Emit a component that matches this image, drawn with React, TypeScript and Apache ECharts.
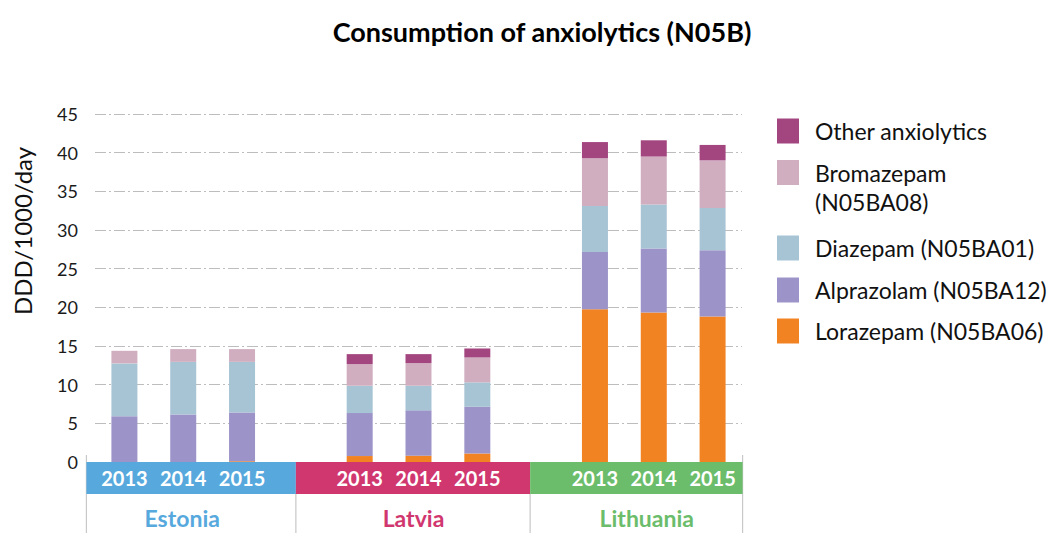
import React, { useEffect, useRef } from "react";
import * as echarts from "echarts";

const countries = ["Estonia", "Latvia", "Lithuania"];
const years = ["2013", "2014", "2015"];
const countryColors = ["#57A9DD", "#D1376F", "#6BBD6B"];

// values per country x year: Estonia 2013..2015, Latvia 2013..2015, Lithuania 2013..2015
const lorazepam = [0, 0, 0.1, 0.77, 0.82, 1.1, 19.76, 19.33, 18.82];
const alprazolam = [5.9, 6.14, 6.3, 5.56, 5.86, 6.04, 7.4, 8.27, 8.56];
const diazepam = [6.85, 6.81, 6.55, 3.53, 3.18, 3.16, 5.94, 5.7, 5.47];
const bromazepam = [1.63, 1.65, 1.65, 2.8, 2.93, 3.22, 6.2, 6.2, 6.15];
const otherAnxiolytics = [0, 0, 0, 1.29, 1.16, 1.16, 2.07, 2.1, 2.0];

const seriesNames = [
  "Lorazepam (N05BA06)",
  "Alprazolam (N05BA12)",
  "Diazepam (N05BA01)",
  "Bromazepam\n(N05BA08)",
  "Other anxiolytics",
];
const seriesValues = [lorazepam, alprazolam, diazepam, bromazepam, otherAnxiolytics];
const seriesColors = ["#F28322", "#9C94C9", "#A7C4D4", "#D0AEBF", "#A3457F"];

const yTicks = { min: 0, max: 45, interval: 5 };
const title = "Consumption of anxiolytics (N05B)";
const yName = "DDD/1000/day";

const FONT = "Lato, 'Open Sans', sans-serif";

// Build category slots with an empty gap slot between countries
const categories: string[] = [];
const slotIndex: number[] = [];
countries.forEach((c, ci) => {
  years.forEach((y) => {
    slotIndex.push(categories.length);
    categories.push(y);
  });
  if (ci < countries.length - 1) categories.push("");
});

function toSlots(vals: number[]) {
  const out: (number | null)[] = categories.map(() => null);
  vals.forEach((v, i) => {
    out[slotIndex[i]] = v;
  });
  return out;
}

export default function App() {
  const ref = useRef<HTMLDivElement>(null);
  useEffect(() => {
    document.body.style.margin = "0";
    if (!ref.current) return;
    const chart = echarts.init(ref.current, undefined, { renderer: "svg" });
    chart.setOption({
      animation: false,
      textStyle: { fontFamily: FONT },
      grid: { left: 95, right: 307, top: 114, bottom: 71, containLabel: false },
      xAxis: {
        type: "category",
        data: categories,
        z: 10,
        axisLine: { show: false },
        axisTick: { show: false },
        axisLabel: {
          color: "#ffffff",
          fontWeight: "bold",
          fontSize: 20,
          fontFamily: FONT,
          margin: 6,
          interval: 0,
        },
      },
      yAxis: {
        type: "value",
        min: yTicks.min,
        max: yTicks.max,
        interval: yTicks.interval,
        axisLine: { show: false },
        axisTick: { show: false },
        axisLabel: { color: "#1a1a1a", fontSize: 18, margin: 17, fontFamily: FONT },
        splitLine: {
          lineStyle: { color: "#BDBDBD", width: 1.2, type: [11, 3, 2, 3] },
        },
      },
      series: seriesValues.map((vals, i) => ({
        type: "bar",
        name: seriesNames[i],
        stack: "total",
        barWidth: 26,
        data: toSlots(vals),
        itemStyle: { color: seriesColors[i] },
      })),
    });

    const px = (i: number) => chart.convertToPixel({ xAxisIndex: 0 }, i) as number;
    const bandTop = 462;
    const bandH = 32;
    const edges = [px(0) - 38, px(3) - 5, px(7) - 6, px(10) + 30];
    const labelX = [px(1) - 1, px(5) - 5, px(9) - 7];
    const graphics: any[] = [];
    countries.forEach((c, i) => {
      graphics.push({
        type: "rect",
        z: 1,
        shape: { x: edges[i], y: bandTop, width: edges[i + 1] - edges[i], height: bandH },
        style: { fill: countryColors[i] },
      });
      graphics.push({
        type: "text",
        z: 1,
        x: labelX[i],
        y: 518,
        style: {
          text: c,
          fill: countryColors[i],
          font: `bold 23px ${FONT}`,
          align: "center",
          verticalAlign: "middle",
        },
      });
    });
    edges.forEach((e, i) => {
      const top = i === 0 || i === edges.length - 1 ? 455 : bandTop + bandH;
      graphics.push({
        type: "line",
        z: 0,
        shape: { x1: e, y1: top, x2: e, y2: 533 },
        style: { stroke: "#C8C8C8", lineWidth: 1.2 },
      });
    });
    // title
    graphics.push({
      type: "text",
      x: 542,
      y: 31,
      style: {
        text: title,
        fill: "#000",
        font: `bold 27px ${FONT}`,
        align: "center",
        verticalAlign: "middle",
      },
    });
    // y axis name
    graphics.push({
      type: "text",
      x: 22,
      y: 231,
      rotation: Math.PI / 2,
      style: {
        text: yName,
        fill: "#111",
        font: `24px ${FONT}`,
        align: "center",
        verticalAlign: "middle",
      },
    });
    // legend (top to bottom: reverse of stack order)
    const legendY = [131, 172.5, 248, 290, 331];
    const order = [4, 3, 2, 1, 0];
    order.forEach((si, k) => {
      graphics.push({
        type: "rect",
        shape: { x: 777, y: legendY[k] - 12.5, width: 22, height: 25 },
        style: { fill: seriesColors[si] },
      });
      graphics.push({
        type: "text",
        x: 815,
        y: legendY[k] - 14.5,
        style: {
          text: seriesNames[si],
          fill: "#111",
          font: `23px ${FONT}`,
          lineHeight: 29,
          align: "left",
          verticalAlign: "top",
        },
      });
    });
    chart.setOption({ graphic: graphics });
    return () => chart.dispose();
  }, []);
  return <div ref={ref} style={{ width: 1049, height: 533 }} />;
}
